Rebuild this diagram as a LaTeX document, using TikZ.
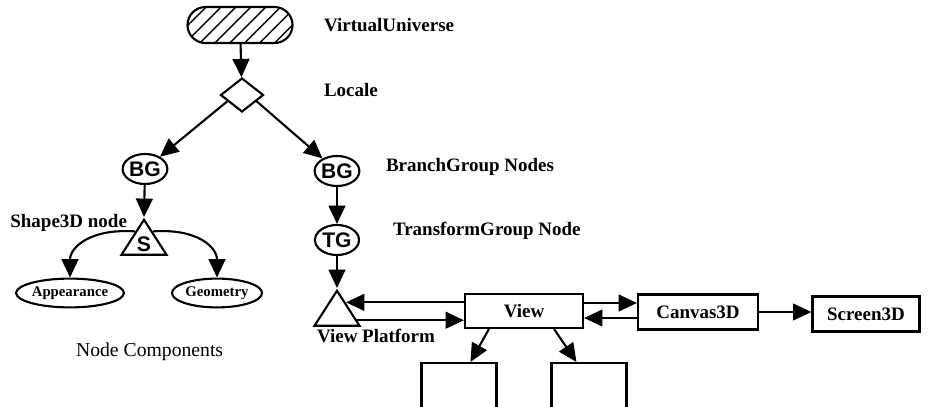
\documentclass[tikz,border=0pt]{standalone}
\usepackage{fontspec}
\setmainfont{Liberation Serif}
\setsansfont{Liberation Sans}
\usetikzlibrary{arrows.meta,positioning,calc,shapes.geometric,patterns.meta}
\tikzset{
  >={Triangle[length=4.6mm,width=4.2mm]},
  every picture/.append style={line width=1.5pt},
}
\tikzset{
  lbl/.style={anchor=west, inner sep=0pt, font=\bfseries\fontsize{13.5}{15}\selectfont},
  grp/.style={draw, ellipse, inner sep=0pt, minimum width=1.1cm, minimum height=0.75cm, font=\sffamily\bfseries\fontsize{15}{17}\selectfont},
  comp/.style={draw, ellipse, inner sep=0pt, minimum width=2.25cm, minimum height=0.72cm, font=\bfseries\fontsize{10.5}{12}\selectfont},
  tri/.style={draw, isosceles triangle, isosceles triangle stretches, shape border rotate=90, minimum width=1.125cm, minimum height=0.875cm, inner sep=0pt, font=\sffamily\bfseries\fontsize{15}{17}\selectfont},
  box/.style={draw, rectangle, inner sep=0pt, minimum height=0.85cm, font=\bfseries\fontsize{13.5}{15}\selectfont},
  arrow/.style={->}
}

\begin{document}
\begin{tikzpicture}[x=0.025cm, y=-0.025cm]
\useasboundingbox (0,0) rectangle (928,407);
\clip (0,0) rectangle (928,407);

% scene graph
\node[draw, rounded corners=0.45cm, minimum width=2.625cm, minimum height=0.9cm, pattern={Lines[angle=45,distance=7.5pt,line width=1pt]}] (vu) at (240,25) {};
\node[draw, diamond, minimum width=1.075cm, minimum height=0.85cm, inner sep=0pt] (loc) at (242,95) {};
\node[grp] (bgl) at (145,169) {BG};
\node[grp] (bgr) at (337,171) {BG};
\node[grp] (tg) at (337,240) {TG};
\node[tri, anchor=apex] (shp) at (144,217) {S};
\node[tri, anchor=apex] (vp) at (337,288) {};
\node[comp] (app) at (70,293) {Appearance};
\node[comp] (geo) at (217,293) {Geometry};

% view side
\node[box, minimum width=2.95cm] (view) at (524,311) {View};
\node[box, minimum width=3cm, minimum height=0.875cm] (canvas) at (698,312) {Canvas3D};
\node[box, minimum width=2.675cm, minimum height=0.875cm] (screen) at (866,314) {Screen3D};
\node[box, minimum width=1.875cm, minimum height=1.5cm, anchor=north] (body) at (459,362) {};
\node[box, minimum width=1.875cm, minimum height=1.5cm, anchor=north] (env) at (589,362) {};

% labels
\node[lbl] (vulbl) at (323,25) {VirtualUniverse};
\node[lbl] (loclbl) at (323,90) {Locale};
\node[lbl] (bglbl) at (385,167) {BranchGroup Nodes};
\node[lbl] (tglbl) at (392,231) {TransformGroup Node};
\node[lbl, anchor=east] (shplbl) at (128,223) {Shape3D node};
\node[lbl] (vplbl) at (316,336) {View Platform};
\node[lbl, font=\fontsize{14}{16}\selectfont] (nclbl) at (75,352) {Node Components};

% connectors
\draw[arrow] (vu) -- (loc);
\draw[arrow] ($(loc.west)!0.35!(loc.south)$) -- (bgl);
\draw[arrow] ($(loc.south)!0.65!(loc.east)$) -- (bgr);
\draw[arrow] (bgl) -- (shp.apex);
\draw[arrow] (bgr) -- (tg);
\draw[arrow] (tg) -- (vp.apex);
\draw[arrow] ($(shp.apex)!0.37!(shp.left corner)$) .. controls +(-45,-3) and +(0,-30) .. (app.north);
\draw[arrow] ($(shp.apex)!0.37!(shp.right corner)$) .. controls +(45,-3) and +(0,-30) .. (geo.north);

\coordinate (vpin) at ($(vp.apex)!0.37!(vp.right corner)$);
\coordinate (vpout) at ($(vp.apex)!0.83!(vp.right corner)$);
\draw[arrow] (view.west |- vpin) -- (vpin);
\draw[arrow] (vpout) -- (view.west |- vpout);
\draw[arrow] ([yshift=0.2cm]view.east) -- ([yshift=0.2cm]view.east -| canvas.west);
\draw[arrow] ([yshift=-0.15cm]canvas.west) -- ([yshift=-0.15cm]canvas.west -| view.east);
\draw[arrow] (canvas.east) -- (canvas.east -| screen.west);
\draw[arrow] ([xshift=0.625cm]view.south west) -- ([xshift=1.25cm]body.north west);
\draw[arrow] ([xshift=-0.75cm]view.south east) -- ([xshift=0.65cm]env.north west);
\end{tikzpicture}
\end{document}
